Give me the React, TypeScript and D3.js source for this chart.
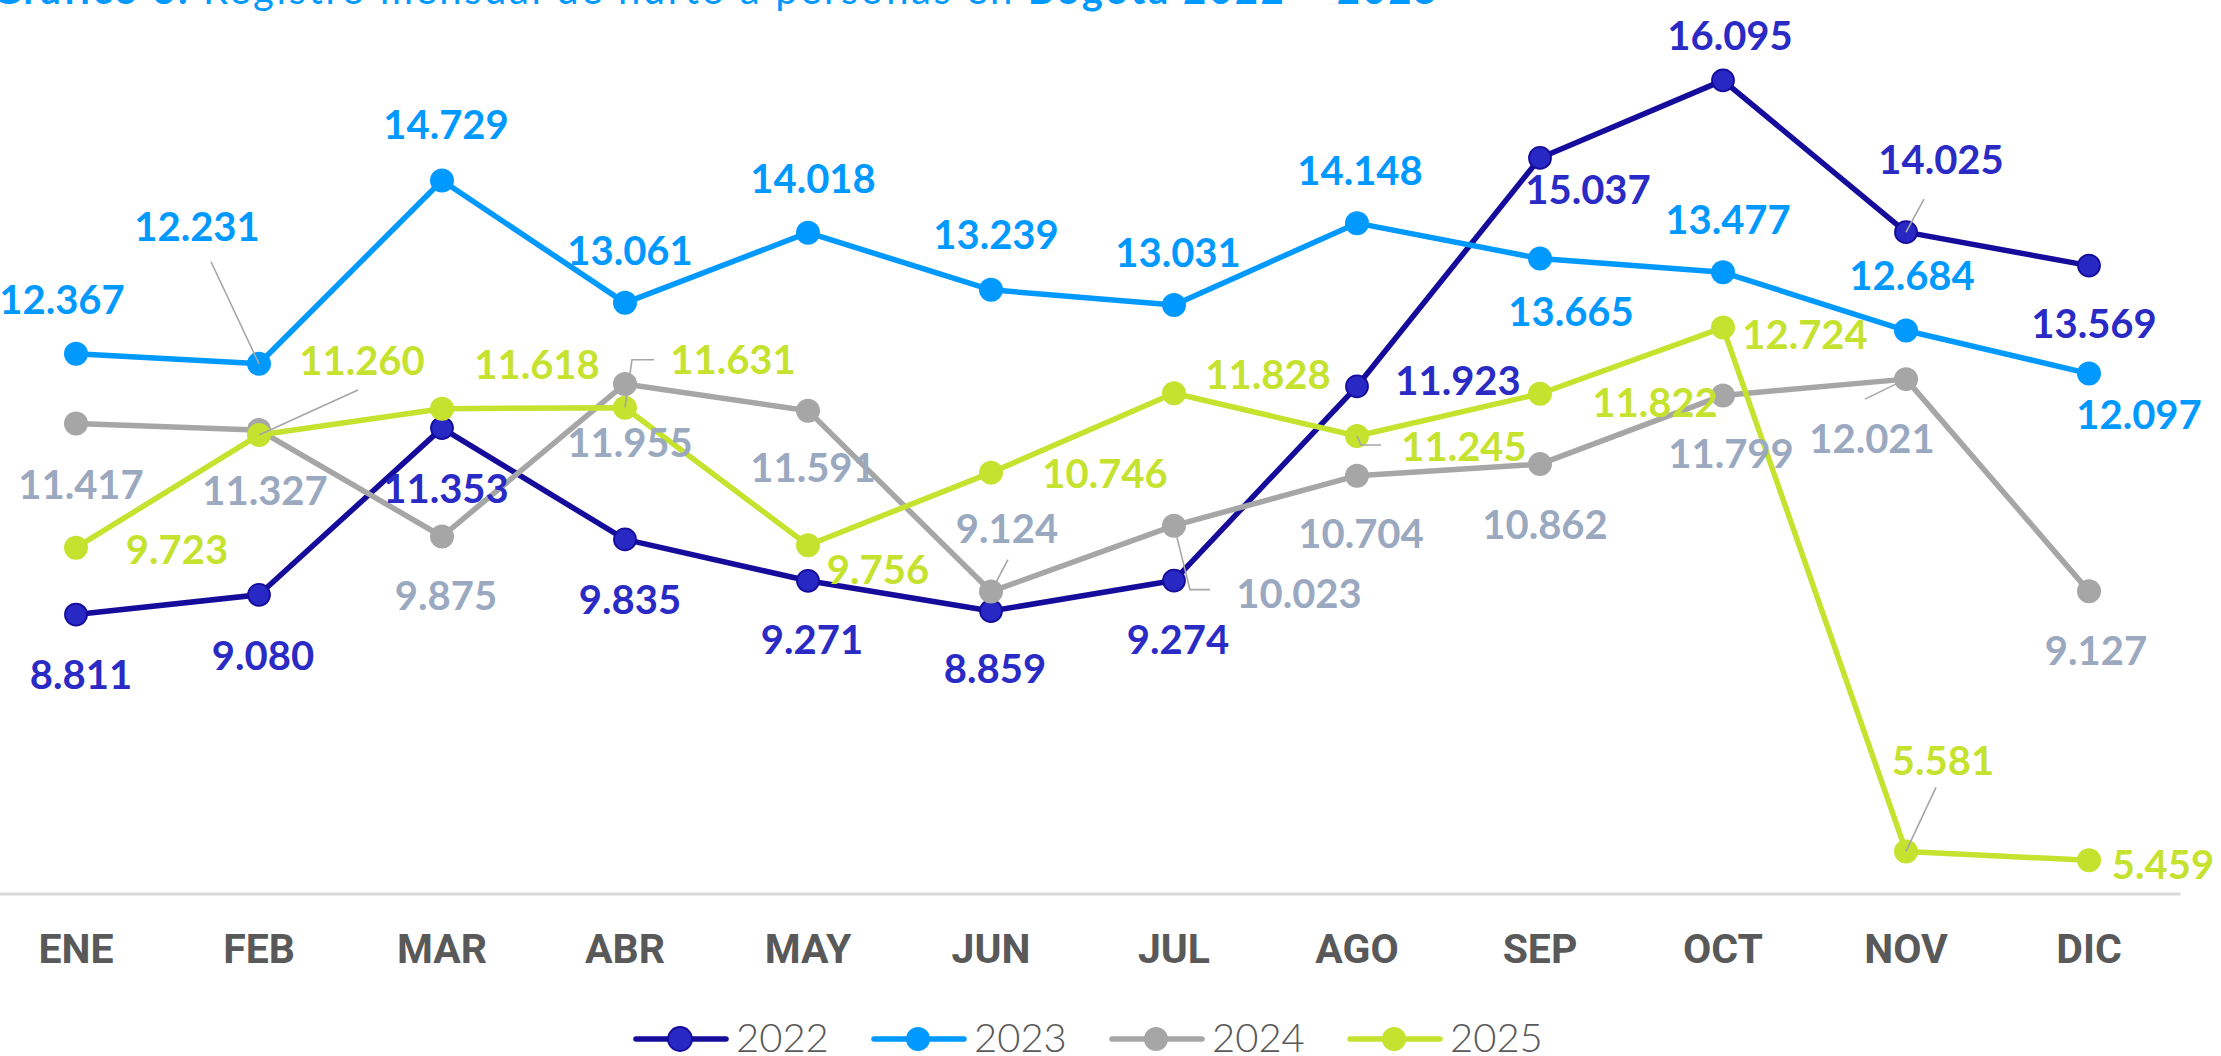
import React from 'react';
import * as d3 from 'd3';

const months = ['ENE', 'FEB', 'MAR', 'ABR', 'MAY', 'JUN', 'JUL', 'AGO', 'SEP', 'OCT', 'NOV', 'DIC'];
const years = ['2022', '2023', '2024', '2025'];

const values2022 = [8811, 9080, 11353, 9835, 9271, 8859, 9274, 11923, 15037, 16095, 14025, 13569];
const values2023 = [12367, 12231, 14729, 13061, 14018, 13239, 13031, 14148, 13665, 13477, 12684, 12097];
const values2024 = [11417, 11327, 9875, 11955, 11591, 9124, 10023, 10704, 10862, 11799, 12021, 9127];
const values2025 = [9723, 11260, 11618, 11631, 9756, 10746, 11828, 11245, 11822, 12724, 5581, 5459];

// label offsets (label centre relative to its point)
const labelOff2022 = [[5, 60], [4, 61], [4, 60], [5, 60], [4, 59], [4, 57], [4, 59], [101, -6], [48, 32], [7, -45], [35, -73], [5, 58]];
const labelOff2023 = [[-14, -54], [-62, -137], [4, -56], [5, -52], [5, -54], [5, -55], [4, -53], [3, -53], [31, 53], [5, -53], [6, -55], [50, 41]];
const labelOff2024 = [[5, 61], [6, 60], [4, 59], [5, 59], [5, 57], [16, -63], [125, 68], [4, 58], [5, 60], [8, 58], [-34, 59], [7, 59]];
const labelOff2025 = [[101, 2], [103, -74], [95, -44], [108, -48], [70, 24], [114, 1], [94, -19], [107, 10], [115, 9], [82, 7], [37, -91], [74, 4]];

// leader lines: series index, month index, path relative to point
const leaders = [
  { s: 1, m: 1, path: [[0, 0], [-48, -102]] },
  { s: 3, m: 1, path: [[0, 0], [99, -45]] },
  { s: 3, m: 3, path: [[0, 0], [7, -48], [29, -48]] },
  { s: 2, m: 5, path: [[0, 0], [17, -32]] },
  { s: 2, m: 6, path: [[0, 0], [16, 64], [36, 64]] },
  { s: 3, m: 7, path: [[0, 0], [4, 9], [24, 9]] },
  { s: 0, m: 10, path: [[0, 0], [18, -33]] },
  { s: 2, m: 10, path: [[0, 0], [-41, 20]] },
  { s: 3, m: 10, path: [[0, 0], [30, -64]] },
];

const lineColors = ['#150C9C', '#0099FF', '#A6A6A6', '#C5E22E'];
const markerFill = ['#2828C4', '#0099FF', '#A6A6A6', '#C5E22E'];
const labelColors = ['#2A2AC4', '#0099FF', '#9AA9BF', '#C5E22E'];

const W = 2221;
const H = 1056;

const locale = d3.formatLocale({ decimal: ',', thousands: '.', grouping: [3], currency: ['$', ''] });
const fmt = locale.format(',d');

export default function App() {
  const series = [values2022, values2023, values2024, values2025];
  const offsets = [labelOff2022, labelOff2023, labelOff2024, labelOff2025];

  const xBand = d3.scaleBand<string>().domain(months).range([-15.5, 2180.5]).padding(0);
  const x = (m: string) => (xBand(m) as number) + xBand.bandwidth() / 2;
  const y = d3.scaleLinear().domain([5000, 17000]).range([894, 14]);

  const line = d3
    .line<number>()
    .x((_, i) => x(months[i]))
    .y((d) => y(d));

  const numFont = 'Lato, "Open Sans", sans-serif';

  return (
    <svg
      width={W}
      height={H}
      style={{ position: 'absolute', left: 0, top: 0, display: 'block', background: '#fff' }}
    >
      {/* title (cut at top, as in the reference) */}
      <text x={-8} y={4} fontFamily={numFont} fontSize={40} letterSpacing={2.6} fill="#0099FF">
        <tspan fontWeight={700}>Gráfico 3.</tspan>
        <tspan fontWeight={400}> Registro mensual de hurto a personas en </tspan>
        <tspan fontWeight={700}>Bogotá 2022 – 2025</tspan>
      </text>

      {/* axis line */}
      <line x1={xBand.range()[0]} x2={xBand.range()[1]} y1={y(5000)} y2={y(5000)} stroke="#D9D9D9" strokeWidth={3} />

      {/* month labels */}
      {months.map((m) => (
        <text
          key={m}
          x={x(m)}
          y={963}
          textAnchor="middle"
          fontFamily="Roboto, sans-serif"
          fontWeight={700}
          fontSize={41}
          fill="#595959"
        >
          {m}
        </text>
      ))}

      {/* lines and markers */}
      {series.map((vals, si) => (
        <g key={years[si]}>
          <path d={line(vals) || ''} fill="none" stroke={lineColors[si]} strokeWidth={5.5} strokeLinejoin="round" />
          {vals.map((v, i) => (
            <circle
              key={i}
              cx={x(months[i])}
              cy={y(v)}
              r={si === 0 ? 11 : 12}
              fill={markerFill[si]}
              stroke={si === 0 ? lineColors[0] : 'none'}
              strokeWidth={si === 0 ? 1.8 : 0}
            />
          ))}
        </g>
      ))}

      {/* leader lines */}
      {leaders.map((l, k) => {
        const px = x(months[l.m]);
        const py = y(series[l.s][l.m]);
        const d = l.path.map((p, j) => `${j === 0 ? 'M' : 'L'}${px + p[0]},${py + p[1]}`).join('');
        return <path key={k} d={d} fill="none" stroke="#A6A6A6" strokeWidth={1.6} />;
      })}

      {/* data labels */}
      {series.map((vals, si) => (
        <g key={'l' + years[si]}>
          {vals.map((v, i) => (
            <text
              key={i}
              x={x(months[i]) + offsets[si][i][0]}
              y={y(v) + offsets[si][i][1] + 14.5}
              textAnchor="middle"
              fontFamily={numFont}
              fontWeight={700}
              fontSize={40}
              fill={labelColors[si]}
            >
              {fmt(v)}
            </text>
          ))}
        </g>
      ))}

      {/* legend */}
      {years.map((yr, i) => {
        const x0 = 636 + i * 238;
        return (
          <g key={yr}>
            <line x1={x0} x2={x0 + 90} y1={1039} y2={1039} stroke={lineColors[i]} strokeWidth={5.5} strokeLinecap="round" />
            <circle
              cx={x0 + 44}
              cy={1039}
              r={12}
              fill={markerFill[i]}
              stroke={i === 0 ? lineColors[0] : 'none'}
              strokeWidth={i === 0 ? 1.8 : 0}
            />
            <text x={x0 + 100} y={1052} fontFamily={numFont} fontWeight={300} fontSize={40} fill="#595959">
              {yr}
            </text>
          </g>
        );
      })}
    </svg>
  );
}
